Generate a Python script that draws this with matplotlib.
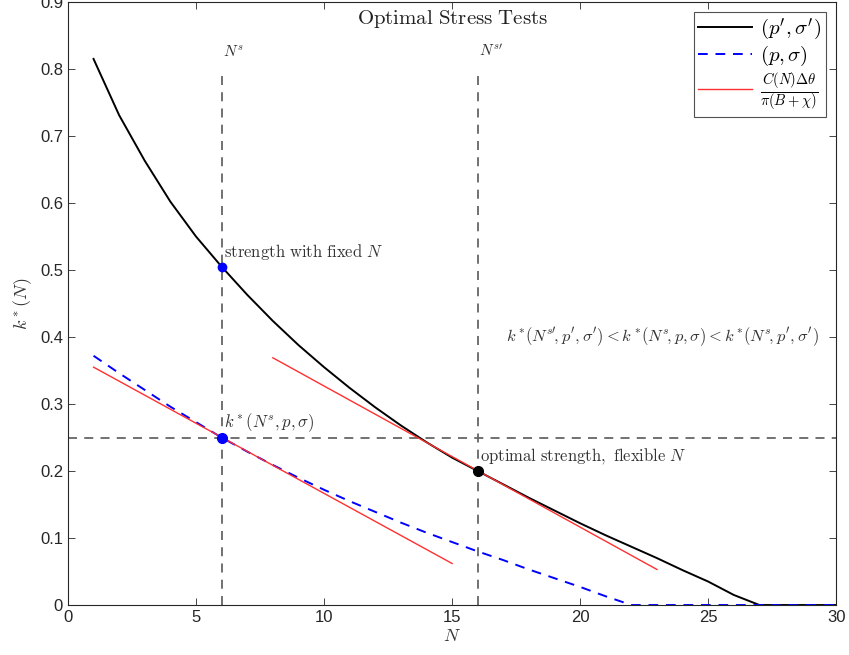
import numpy as np
import matplotlib
matplotlib.use('Agg')
from matplotlib import pyplot as plt

plt.rcParams['mathtext.fontset'] = 'cm'
plt.rcParams['font.family'] = ['Liberation Sans', 'DejaVu Sans']

# data
N = np.arange(1, 31)
k_prime = [0.815, 0.731, 0.663, 0.602, 0.550, 0.505, 0.463, 0.424, 0.388, 0.355,
           0.324, 0.295, 0.268, 0.243, 0.220, 0.200, 0.180, 0.160, 0.141, 0.122,
           0.104, 0.087, 0.070, 0.052, 0.035, 0.015, 0.0, 0.0, 0.0, 0.0]
k_base = [0.372, 0.346, 0.321, 0.296, 0.273, 0.250, 0.229, 0.209, 0.190, 0.172,
          0.155, 0.139, 0.123, 0.108, 0.094, 0.080, 0.067, 0.053, 0.040, 0.027,
          0.013, 0.0, 0.0, 0.0, 0.0, 0.0, 0.0, 0.0, 0.0, 0.0]
tan1_x = [1, 15]
tan1_y = [0.355, 0.062]
tan2_x = [8, 23]
tan2_y = [0.369, 0.053]
N_s = 6
N_s2 = 16
k_fixed = 0.505
k_level = 0.25
k_flex = 0.200

fig = plt.figure(figsize=(8.49, 6.55), dpi=100)
ax = fig.add_axes([0.080, 0.0763, 0.905, 0.9207])

gray = '#666666'
ax.plot([N_s, N_s], [0, 0.8], ls=(0, (5, 4)), color=gray, lw=1.3)
ax.plot([N_s2, N_s2], [0, 0.8], ls=(0, (5, 4)), color=gray, lw=1.3)
ax.plot([0, 30], [k_level, k_level], ls=(0, (5, 4)), color=gray, lw=1.3)

ax.plot(N, k_prime, color='black', lw=1.4, label=r"$(p',\sigma')$")
ax.plot(N, k_base, color='blue', lw=1.4, ls=(0, (5, 4)), label=r'$(p,\sigma)$')
ax.plot(tan1_x, tan1_y, color='#ff3030', lw=1.0,
        label=r'$\frac{C(N)\Delta\theta}{\pi(B+\chi)}$')
ax.plot(tan2_x, tan2_y, color='#ff3030', lw=1.0)

ax.plot(N_s, k_fixed, 'o', color='blue', ms=6)
ax.plot(N_s, k_level, 'o', color='blue', ms=7)
ax.plot(N_s2, k_flex, 'o', color='black', ms=7)

ax.text(N_s + 0.05, 0.815, r'$N^s$', fontsize=11, color='#333333', va='bottom')
ax.text(N_s2 + 0.05, 0.815, r"$N^{s\prime}$", fontsize=11, color='#333333', va='bottom')
ax.text(N_s + 0.1, 0.527, r'$\mathrm{strength\ with\ fixed}\ N$', fontsize=12,
        color='#333333', va='center')
ax.text(N_s + 0.1, 0.272, r'$k^*(N^s,p,\sigma)$', fontsize=12, color='#333333', va='center')
ax.text(N_s2 + 0.1, 0.222, r'$\mathrm{optimal\ strength,\ flexible}\ N$', fontsize=12,
        color='#333333', va='center')
ax.text(17.1, 0.401,
        r"$k^*\!(N^{s\prime}\!,p',\sigma')<k^*\!(N^s\!,p,\sigma)<k^*\!(N^s\!,p',\sigma')$",
        fontsize=11.9, color='#333333', va='center')
ax.text(15, 0.875, r'$\mathrm{Optimal\ Stress\ Tests}$', fontsize=15, color='#222222',
        ha='center', va='center')

ax.set_xlim(0, 30)
ax.set_ylim(0, 0.9)
ax.set_xticks(np.arange(0, 31, 5))
ax.set_yticks(np.arange(0, 0.91, 0.1))
ax.set_yticklabels(['0'] + ['%.1f' % v for v in np.arange(0.1, 0.91, 0.1)])
ax.tick_params(direction='in', top=True, right=True, labelsize=12, colors='#262626',
               length=5, width=0.6)
for s in ax.spines.values():
    s.set_linewidth(0.8)
    s.set_color('#262626')
ax.set_xlabel(r'$N$', fontsize=13, color='#333333', labelpad=2)
ax.set_ylabel(r'$k^*(N)$', fontsize=13, color='#333333', labelpad=4)

leg = ax.legend(loc='upper right', fontsize=15, frameon=True, fancybox=False,
                edgecolor='#262626', handlelength=2.6, borderaxespad=0.5,
                labelspacing=0.1, borderpad=0.2, handletextpad=0.4)
leg.get_frame().set_linewidth(0.8)

fig.savefig('out.png', dpi=100)
